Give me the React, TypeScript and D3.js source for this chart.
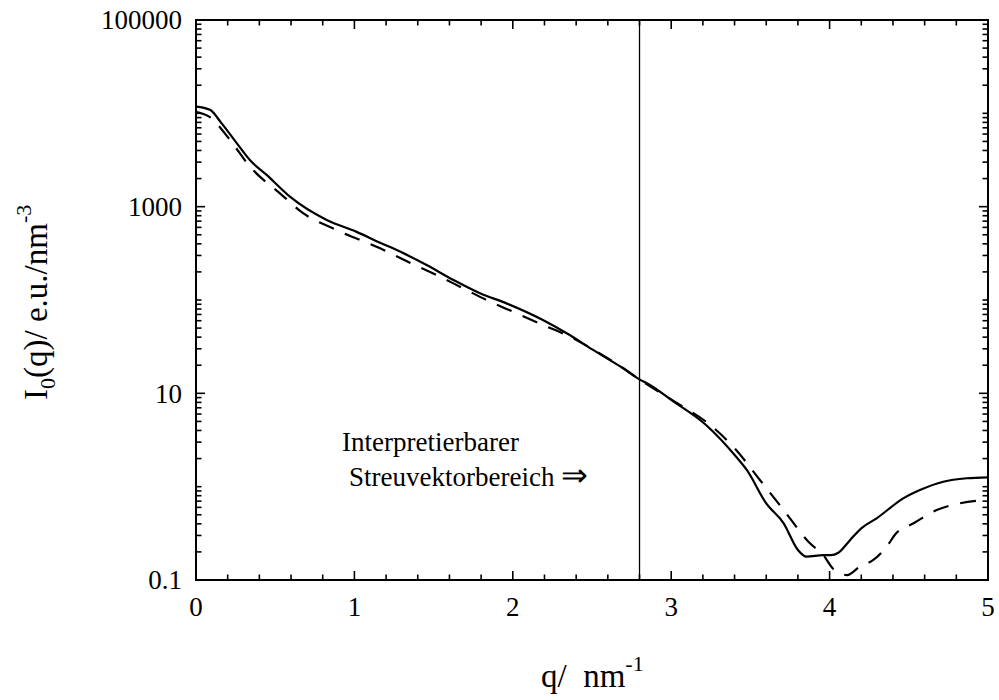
import React from "react";
import * as d3 from "d3";

const solidQ = [0, 0.088, 0.162, 0.257, 0.34, 0.446, 0.593, 0.825, 1.014, 1.162, 1.288, 1.456, 1.625, 1.793, 1.96, 2.19, 2.34, 2.51, 2.68, 2.8, 2.866, 3.0, 3.22, 3.41, 3.477, 3.6, 3.71, 3.8, 3.855, 3.96, 4.007, 4.055, 4.13, 4.2, 4.297, 4.465, 4.57, 4.718, 4.866, 5.0];
const solidI = [11800, 10900, 7800, 4790, 3160, 2190, 1280, 720, 537, 411, 330, 237, 164, 118, 92, 61, 44, 29, 19.3, 14.1, 12.3, 8.5, 4.58, 2.09, 1.51, 0.662, 0.405, 0.21, 0.178, 0.185, 0.185, 0.196, 0.269, 0.358, 0.458, 0.75, 0.92, 1.13, 1.23, 1.26];

const dashedQ = [0, 0.088, 0.215, 0.34, 0.53, 0.676, 0.888, 1.162, 1.35, 1.52, 1.688, 1.856, 2.025, 2.19, 2.36, 2.53, 2.7, 2.8, 3.056, 3.22, 3.41, 3.56, 3.71, 3.876, 3.96, 4.02, 4.066, 4.11, 4.19, 4.276, 4.36, 4.42, 4.53, 4.676, 4.82, 5.0];
const dashedI = [10400, 9100, 5180, 2690, 1390, 851, 562, 358, 251, 185, 133, 96, 72, 54, 40.5, 27.9, 18.5, 14.1, 7.5, 4.97, 2.47, 1.18, 0.562, 0.247, 0.185, 0.133, 0.118, 0.113, 0.139, 0.164, 0.228, 0.316, 0.405, 0.562, 0.662, 0.72];

const xMajorTicks = [0, 1, 2, 3, 4, 5];
const xMinorTicks = [0.2, 0.4, 0.6, 0.8, 1.2, 1.4, 1.6, 1.8, 2.2, 2.4, 2.6, 2.8, 3.2, 3.4, 3.6, 3.8, 4.2, 4.4, 4.6, 4.8];
const yMajorTicks = [0.1, 10, 1000, 100000];
const yMajorLabels = ["0.1", "10", "1000", "100000"];
const yDecades = [0.1, 1, 10, 100, 1000, 10000];
const boundaryQ = 2.8;

const FONT = "'Liberation Serif', 'Times New Roman', serif";

export default function App() {
  const left = 196, right = 988, top = 20, bottom = 580;
  const x = d3.scaleLinear().domain([0, 5]).range([left, right]);
  const y = d3.scaleLog().domain([0.1, 100000]).range([bottom, top]);

  const yMinor: number[] = [];
  yDecades.forEach((d) => {
    for (let k = 1; k <= 9; k++) {
      const v = d * k;
      if (v > 100000 * 1.0001) continue;
      if (yMajorTicks.some((m) => Math.abs(m - v) / m < 1e-6)) continue;
      yMinor.push(v);
    }
  });

  const line = d3
    .line<[number, number]>()
    .x((d) => x(d[0]))
    .y((d) => y(d[1]))
    .curve(d3.curveMonotoneX);

  const solid = line(solidQ.map((q, i) => [q, solidI[i]] as [number, number])) || "";
  const dashed = line(dashedQ.map((q, i) => [q, dashedI[i]] as [number, number])) || "";

  const majLen = 9, minLen = 5.5;

  return (
    <svg width={999} height={700} style={{ position: "absolute", left: 0, top: 0 }} fontFamily={FONT}>
      <rect x={0} y={0} width={999} height={700} fill="#fff" />
      <path d={dashed} fill="none" stroke="#000" strokeWidth={2.2} strokeDasharray="16 12" />
      <path d={solid} fill="none" stroke="#000" strokeWidth={2.2} strokeLinejoin="round" />
      <line x1={x(boundaryQ)} x2={x(boundaryQ)} y1={top} y2={bottom} stroke="#000" strokeWidth={1.3} />
      <g stroke="#000" strokeWidth={1.6}>
        {xMajorTicks.map((t) => (
          <g key={"xM" + t}>
            <line x1={x(t)} x2={x(t)} y1={bottom} y2={bottom - majLen} />
            <line x1={x(t)} x2={x(t)} y1={top} y2={top + majLen} />
          </g>
        ))}
        {xMinorTicks.map((t) => (
          <g key={"xm" + t}>
            <line x1={x(t)} x2={x(t)} y1={bottom} y2={bottom - minLen} />
            <line x1={x(t)} x2={x(t)} y1={top} y2={top + minLen} />
          </g>
        ))}
        {yMajorTicks.map((t) => (
          <g key={"yM" + t}>
            <line x1={left} x2={left + majLen} y1={y(t)} y2={y(t)} />
            <line x1={right} x2={right - majLen} y1={y(t)} y2={y(t)} />
          </g>
        ))}
        {yMinor.map((t) => (
          <g key={"ym" + t}>
            <line x1={left} x2={left + minLen} y1={y(t)} y2={y(t)} />
            <line x1={right} x2={right - minLen} y1={y(t)} y2={y(t)} />
          </g>
        ))}
      </g>
      <rect x={left} y={top} width={right - left} height={bottom - top} fill="none" stroke="#000" strokeWidth={2} />
      <g fontSize={27} fill="#000">
        {xMajorTicks.map((t) => (
          <text key={"xl" + t} x={x(t)} y={616} textAnchor="middle">
            {String(t)}
          </text>
        ))}
        {yMajorTicks.map((t, i) => (
          <text key={"yl" + t} x={182} y={y(t)} dy="0.35em" textAnchor="end">
            {yMajorLabels[i]}
          </text>
        ))}
      </g>
      <g fontSize={27} fill="#000">
        <text x={342} y={451}>Interpretierbarer</text>
        <text x={349} y={486}>
          {"Streuvektorbereich "}
          <tspan fontSize={32}>⇒</tspan>
        </text>
      </g>
      <text x={541} y={687} fontSize={33} fill="#000" style={{ whiteSpace: "pre" }}>
        {"q/  nm"}
        <tspan fontSize={22} dy={-16}>-1</tspan>
      </text>
      <text transform="translate(47,400) rotate(-90)" fontSize={33} fill="#000" style={{ whiteSpace: "pre" }}>
        I<tspan fontSize={22} dy={8}>0</tspan>
        <tspan dy={-8}>{"(q)/ e.u./nm"}</tspan>
        <tspan fontSize={22} dy={-16}>-3</tspan>
      </text>
    </svg>
  );
}
